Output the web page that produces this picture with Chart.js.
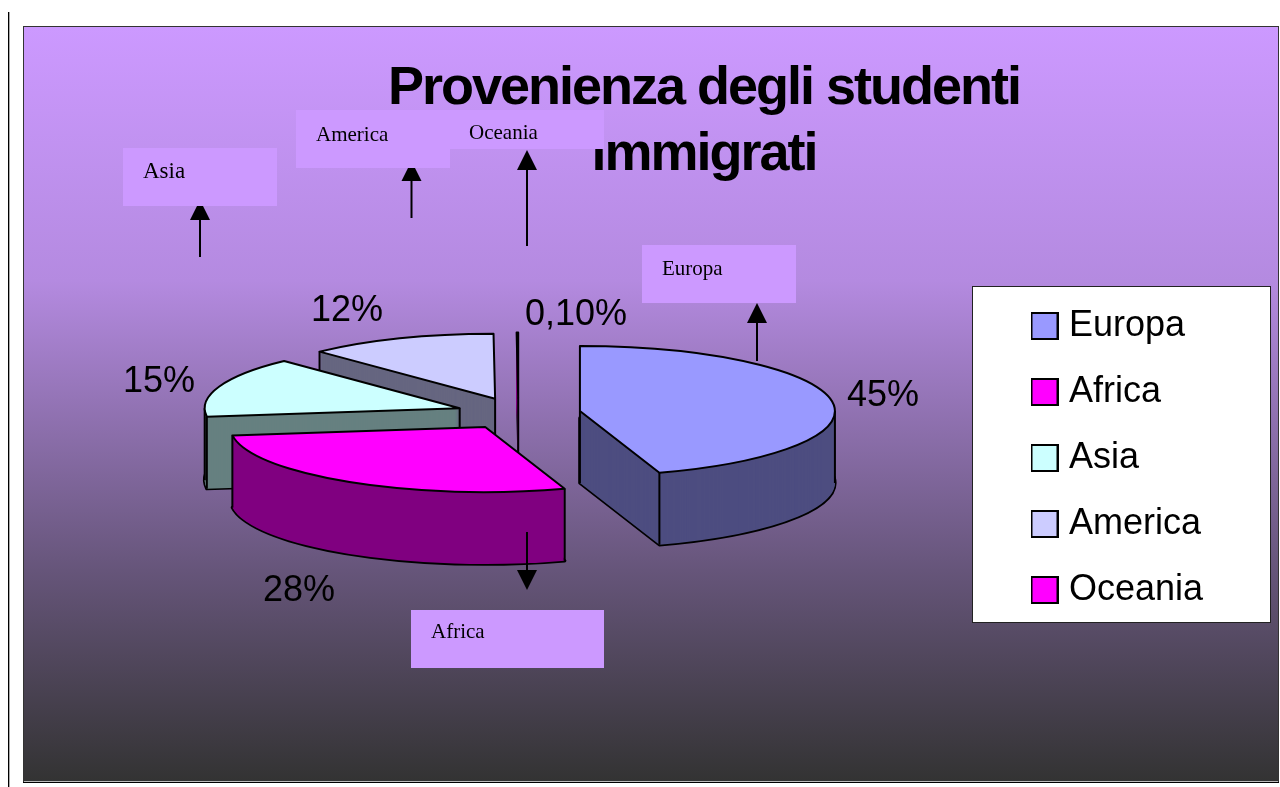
<!DOCTYPE html>
<html>
<head>
<meta charset="utf-8">
<style>html,body{margin:0;padding:0;background:#fff;overflow:hidden}canvas{display:block}</style>
<script src="https://cdn.jsdelivr.net/npm/chart.js@4/dist/chart.umd.js"></script>
</head>
<body>
<canvas id="c" width="1280" height="787"></canvas>
<script>
const categories = ['Europa', 'Africa', 'Asia', 'America', 'Oceania'];
const shares = [45, 28, 15, 12, 0.1];
const shareLabels = ['45%', '28%', '15%', '12%', '0,10%'];
const titleLines = ['Provenienza degli studenti', 'immigrati'];

const topColors = ['#9999ff', '#ff00ff', '#ccffff', '#ccccff', '#ff00ff'];
const wallColors = ['#4d4d80', '#800080', '#668080', '#666680', '#800080'];
const drawOrder = [4, 3, 2, 1, 0];

const PIE = {cx: 518.4, cy: 413.5, r: 255, squash: 0.255, explode: 62.3, depth: 72};
const shareLabelPos = [[883, 396], [299, 591], [159, 382], [347, 311], [576, 315]];
const callouts = [
  {text: 'Asia', box: [123, 148, 154, 58], tx: 143, ty: 178, size: 23, arrow: [200, 257, 220, 200]},
  {text: 'America', box: [296, 110, 154, 58], tx: 316, ty: 141, size: 21, arrow: [411.5, 218, 181, 161]},
  {text: 'Oceania', box: [450, 110, 154, 39], tx: 469, ty: 139, size: 21, arrow: [527, 246, 170, 150]},
  {text: 'Europa', box: [642, 245, 154, 58], tx: 662, ty: 275, size: 21, arrow: [757, 361, 323, 303]},
  {text: 'Africa', box: [411, 610, 193, 58], tx: 431, ty: 638, size: 21, arrow: [527, 532, 570, 590]}
];

function swatch(color) {
  const s = document.createElement('canvas');
  s.width = 28; s.height = 28;
  const g = s.getContext('2d');
  g.fillStyle = '#000'; g.fillRect(0, 0, 28, 28);
  g.fillStyle = color; g.fillRect(2, 2, 24, 24);
  return s;
}

const pieScene = {
  id: 'pieScene',
  beforeDraw(chart) {
    const ctx = chart.ctx;
    ctx.save();
    ctx.fillStyle = '#fff'; ctx.fillRect(0, 0, 1280, 787);
    ctx.fillStyle = '#000'; ctx.fillRect(8, 12, 1, 775);
    ctx.fillStyle = '#aaa'; ctx.fillRect(9, 12, 1, 775);
    const g = ctx.createLinearGradient(0, 28, 0, 781);
    g.addColorStop(0, '#cc99ff');
    g.addColorStop(0.336, '#b48ae0');
    g.addColorStop(0.72, '#66557a');
    g.addColorStop(1, '#333333');
    ctx.fillStyle = g; ctx.fillRect(24, 27, 1254, 754);
    ctx.fillStyle = '#333'; ctx.fillRect(23, 26, 1256, 1); ctx.fillRect(23, 26, 1, 756); ctx.fillRect(1278, 26, 1, 756);
    ctx.fillStyle = '#bbb'; ctx.fillRect(24, 781, 1254, 1);
    ctx.fillStyle = '#000'; ctx.fillRect(23, 782, 1256, 1);
    ctx.fillStyle = '#fff'; ctx.strokeStyle = '#222'; ctx.lineWidth = 1;
    ctx.fillRect(972, 286, 299, 337); ctx.strokeRect(972.5, 286.5, 298, 336);
    ctx.restore();

    const t = chart.titleBlock;
    t.left = 304; t.right = 1104; t.top = 56;
    if (!t.spaced) {
      const base = t.draw;
      t.draw = function () { ctx.save(); ctx.letterSpacing = '-2px'; base.call(this); ctx.restore(); };
      t.spaced = true;
    }
    const l = chart.legend;
    l.left = 1008; l.right = 1270; l.top = 278; l.bottom = 787;
  },
  beforeDatasetDraw(chart) {
    const ctx = chart.ctx, meta = chart.getDatasetMeta(0);
    const {cx, cy, r, squash: s, explode, depth} = PIE;
    const plain = c => ({backgroundColor: c, borderColor: c, borderWidth: 0, borderAlign: 'center',
      offset: 0, spacing: 0, circular: true, borderRadius: 0, borderJoinStyle: 'round'});
    drawOrder.forEach(i => {
      const arc = meta.data[i], a0 = arc.startAngle, a1 = arc.endAngle, mid = (a0 + a1) / 2;
      const thin = a1 - a0 < 0.05;
      const ox = cx + explode * Math.cos(mid), oy = cy + s * explode * Math.sin(mid);
      const place = dy => { ctx.translate(ox, oy + dy); ctx.scale(1, s); ctx.translate(-arc.x, -arc.y); };
      const outline = (dy, w) => {
        ctx.save(); place(dy); ctx.beginPath();
        ctx.moveTo(arc.x, arc.y); ctx.arc(arc.x, arc.y, r, a0, a1); ctx.closePath();
        ctx.restore();
        ctx.lineWidth = w; ctx.lineJoin = 'round'; ctx.strokeStyle = '#000'; ctx.stroke();
      };
      const saved = arc.options;
      outline(depth, thin ? 1 : 3.4);
      arc.options = plain(wallColors[i]);
      for (let dy = depth; dy >= 0; dy--) { ctx.save(); place(dy); arc.draw(ctx); ctx.restore(); }
      // vertical edges of the wall that face the viewer
      const TAU = Math.PI * 2, norm = a => ((a - a0) % TAU + TAU) % TAU;
      const inWedge = (px, py) => {
        const dx = px - ox, dy = (py - oy) / s;
        if (Math.hypot(dx, dy) > r) return false;
        return norm(Math.atan2(dy, dx)) <= a1 - a0 + 1e-6;
      };
      const pts = [[ox, oy]];
      if (!thin) {
        pts.push([ox + r * Math.cos(a0), oy + s * r * Math.sin(a0)], [ox + r * Math.cos(a1), oy + s * r * Math.sin(a1)]);
        [0, Math.PI].forEach(a => { if (norm(a) <= a1 - a0) pts.push([ox + r * Math.cos(a), oy + s * r * Math.sin(a)]); });
      }
      ctx.beginPath();
      pts.forEach(p => { if (!inWedge(p[0], p[1] + 2)) { ctx.moveTo(p[0], p[1]); ctx.lineTo(p[0], p[1] + depth); } });
      ctx.lineWidth = 2; ctx.strokeStyle = '#000'; ctx.stroke();
      arc.options = plain(topColors[i]);
      ctx.save(); place(0); arc.draw(ctx); ctx.restore();
      outline(0, 2);
      arc.options = saved;
    });
    return false;
  },
  afterDatasetsDraw(chart) {
    const ctx = chart.ctx;
    ctx.save();
    ctx.textBaseline = 'middle'; ctx.textAlign = 'center';
    ctx.fillStyle = '#000';
    ctx.font = '36px "Liberation Sans", Arial, sans-serif';
    shareLabels.forEach((t, i) => ctx.fillText(t, shareLabelPos[i][0], shareLabelPos[i][1]));
    callouts.forEach(c => {
      const [x, y0, y1, tip] = c.arrow;
      ctx.strokeStyle = '#000'; ctx.lineWidth = 2;
      ctx.beginPath(); ctx.moveTo(x, y0); ctx.lineTo(x, y1); ctx.stroke();
      ctx.fillStyle = '#000';
      ctx.beginPath(); ctx.moveTo(x, tip); ctx.lineTo(x - 10, y1); ctx.lineTo(x + 10, y1); ctx.closePath(); ctx.fill();
    });
    callouts.forEach(c => {
      ctx.fillStyle = '#cc99ff';
      ctx.fillRect(c.box[0], c.box[1], c.box[2], c.box[3]);
    });
    ctx.textAlign = 'left'; ctx.textBaseline = 'alphabetic'; ctx.fillStyle = '#000';
    callouts.forEach(c => {
      ctx.font = c.size + 'px "Liberation Serif", "Times New Roman", serif';
      ctx.fillText(c.text, c.tx, c.ty);
    });
    ctx.restore();
  }
};

new Chart(document.getElementById('c'), {
  type: 'pie',
  data: {
    labels: categories,
    datasets: [{data: shares, backgroundColor: topColors, borderWidth: 0}]
  },
  options: {
    responsive: false,
    animation: false,
    radius: PIE.r,
    events: [],
    plugins: {
      title: {
        display: true, text: titleLines, color: '#000', padding: 0,
        font: {family: '"Liberation Sans", Arial, sans-serif', size: 54, weight: 'bold', lineHeight: 66 / 54}
      },
      legend: {
        display: true, position: 'right', align: 'start',
        labels: {
          color: '#000', padding: 30, boxWidth: 13, usePointStyle: true, pointStyleWidth: 13,
          font: {family: '"Liberation Sans", Arial, sans-serif', size: 36, lineHeight: 1},
          generateLabels: () => categories.map((c, i) => ({
            text: c, fillStyle: topColors[i], strokeStyle: '#000', lineWidth: 2,
            pointStyle: swatch(topColors[i]), index: i, hidden: false, fontColor: '#000'
          }))
        }
      },
      tooltip: {enabled: false}
    }
  },
  plugins: [pieScene]
});
</script>
</body>
</html>
